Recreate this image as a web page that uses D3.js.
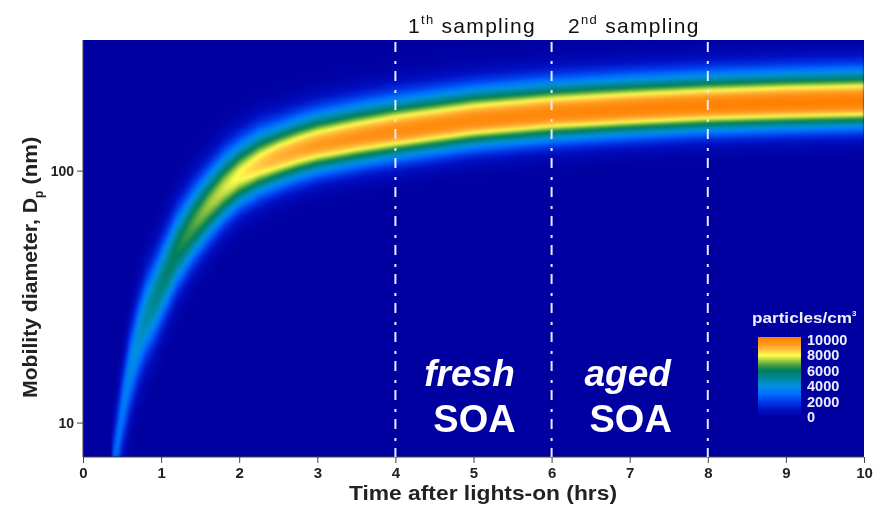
<!DOCTYPE html>
<html>
<head>
<meta charset="utf-8">
<script src="https://cdn.jsdelivr.net/npm/d3@7"></script>
<style>
  body { margin: 0; background: #fff; }
  #wrap { position: relative; width: 877px; height: 506px; }
  #heat, #chart { position: absolute; left: 0; top: 0; }
  text { font-family: "Liberation Sans", Arial, sans-serif; }
</style>
</head>
<body>
<div id="wrap">
  <canvas id="heat" width="877" height="506"></canvas>
  <svg id="chart" width="877" height="506"></svg>
</div>
<script>
// growth of the mode
var hours        = [0.42, 0.5, 0.6, 0.7, 0.8, 0.9, 1.0, 1.2, 1.4, 1.6, 1.8, 2.0, 2.25, 2.5, 2.75, 3.0, 3.5, 4.0, 5.0, 6.0, 7.0, 8.0, 9.0, 10.0];
var modeDiameter = [7.5, 11, 16, 21, 26, 30, 35, 48, 60, 72, 84, 95, 105, 113, 120, 126, 135, 143, 158, 168, 175, 181, 185, 188];
var peakConc     = [2800, 3100, 3600, 4100, 4600, 5000, 5300, 5900, 6500, 7000, 7400, 7800, 8300, 8700, 8900, 9100, 9300, 9500, 9600, 9700, 9800, 9900, 10000, 10000];
var sigmaUp      = [0.11, 0.11, 0.115, 0.115, 0.115, 0.115, 0.115, 0.11, 0.105, 0.10, 0.10, 0.095, 0.095, 0.09, 0.09, 0.09, 0.09, 0.09, 0.088, 0.087, 0.086, 0.085, 0.085, 0.085];
var sigmaDown    = [0.11, 0.11, 0.115, 0.115, 0.115, 0.115, 0.11, 0.105, 0.10, 0.095, 0.09, 0.085, 0.082, 0.08, 0.078, 0.076, 0.075, 0.074, 0.073, 0.072, 0.071, 0.07, 0.07, 0.07];

var xTicks = d3.range(0, 11);
var xMinor = d3.range(0.5, 10, 1);
var yMajor = [10, 100];
var yMinor = [8, 9, 20, 30, 40, 50, 60, 70, 80, 90, 200, 300];
var legendTicks = [0, 2000, 4000, 6000, 8000, 10000];
var samplingHours = [4, 6, 8];

// colour bar of the figure
var colorValues = [0, 900, 2000, 2900, 3900, 4900, 5800, 6400, 7100, 7700, 8400, 9200, 10000];
var colorList = ["#0000a0", "#0010c4", "#0040ec", "#0070ff", "#0090e0", "#00889a", "#007e5c", "#3a9a44", "#a8d040", "#ffff50", "#ffc040", "#ff9418", "#ff8000"];

var svg = d3.select("#chart"),
    plotLeft = 83, plotRight = 864, plotTop = 40, plotBottom = 457;

var x = d3.scaleLinear().domain([0, 10]).range([plotLeft, plotRight]);
var y = d3.scaleLog().domain([7.3, 330]).range([plotBottom, plotTop]);
var color = d3.scaleLinear().domain(colorValues).range(colorList).clamp(true);

var modeScale = d3.scaleLinear().domain(hours).range(modeDiameter.map(Math.log10));
var peakScale = d3.scaleLinear().domain(hours).range(peakConc).clamp(true);
var upScale = d3.scaleLinear().domain(hours).range(sigmaUp).clamp(true);
var downScale = d3.scaleLinear().domain(hours).range(sigmaDown).clamp(true);

// heat map, one cell per pixel
var w = plotRight - plotLeft, h = plotBottom - plotTop;
var off = document.createElement("canvas");
off.width = w; off.height = h;
var octx = off.getContext("2d");
var img = octx.createImageData(w, h);
for (var i = 0; i < w; i++) {
  var t = x.invert(plotLeft + i + 0.5);
  var c = modeScale(t), p = t < hours[0] - 0.05 ? 0 : peakScale(t), su = upScale(t), sd = downScale(t);
  for (var j = 0; j < h; j++) {
    var dd = Math.log10(y.invert(plotTop + j + 0.5)) - c;
    var s = dd > 0 ? su : sd;
    var n = p * Math.exp(-dd * dd / (2 * s * s));
    var col = d3.rgb(color(n));
    var k = (j * w + i) * 4;
    img.data[k] = col.r; img.data[k + 1] = col.g; img.data[k + 2] = col.b; img.data[k + 3] = 255;
  }
}
octx.putImageData(img, 0, 0);
var ctx = document.getElementById("heat").getContext("2d");
ctx.fillStyle = colorList[0];
ctx.fillRect(plotLeft, plotTop, w, h);
ctx.save();
ctx.beginPath(); ctx.rect(plotLeft, plotTop, w, h); ctx.clip();
ctx.filter = "blur(1px)";
ctx.drawImage(off, plotLeft, plotTop);
ctx.restore();

// axes
var axisColor = "#444";
var gy = svg.append("g").attr("transform", "translate(" + plotLeft + ",0)");
gy.call(d3.axisLeft(y).tickValues(yMinor).tickSize(3).tickFormat(""));
gy.call(d3.axisLeft(y).tickValues(yMajor).tickSize(6).tickFormat(d3.format("d")));
gy.selectAll("path, line").attr("stroke", axisColor);
gy.select(".domain").attr("d", "M0," + plotTop + "V" + plotBottom);
gy.selectAll("text").attr("font-size", 14).attr("font-weight", "bold").attr("fill", "#222").attr("x", -9);

var gx = svg.append("g").attr("transform", "translate(0," + plotBottom + ")");
gx.call(d3.axisBottom(x).tickValues(xMinor).tickSize(3).tickFormat(""));
gx.call(d3.axisBottom(x).tickValues(xTicks).tickSize(6).tickFormat(d3.format("d")));
gx.selectAll("path, line").attr("stroke", axisColor);
gx.select(".domain").attr("d", "M" + plotLeft + ",0H" + plotRight);
gx.selectAll("text").attr("font-size", 15).attr("font-weight", "bold").attr("fill", "#222").attr("y", 10);

svg.append("text")
    .attr("x", 349).attr("y", 500)
    .attr("font-size", 21).attr("font-weight", "bold").attr("fill", "#222")
    .attr("textLength", 268).attr("lengthAdjust", "spacingAndGlyphs")
    .text("Time after lights-on (hrs)");

var ylab = svg.append("text")
    .attr("transform", "translate(37,398) rotate(-90)")
    .attr("font-size", 21).attr("font-weight", "bold").attr("fill", "#222");
ylab.append("tspan").attr("textLength", 200).attr("lengthAdjust", "spacingAndGlyphs").text("Mobility diameter, D");
ylab.append("tspan").attr("font-size", 12).attr("dy", 6).text("p");
ylab.append("tspan").attr("dy", -6).attr("textLength", 54).attr("lengthAdjust", "spacingAndGlyphs").text(" (nm)");

// sampling markers
svg.append("g").selectAll("line")
  .data(samplingHours)
  .enter().append("line")
    .attr("x1", function(d) { return x(d); })
    .attr("x2", function(d) { return x(d); })
    .attr("y1", plotTop + 2).attr("y2", plotBottom)
    .attr("stroke", "#e8e8ff").attr("stroke-width", 2)
    .attr("stroke-dasharray", "10,9,3,7");

var s1 = svg.append("text").attr("x", 408).attr("y", 33).attr("font-size", 21).attr("letter-spacing", 1.3).attr("fill", "#111");
s1.append("tspan").text("1");
s1.append("tspan").attr("font-size", 13).attr("dy", -9).text("th");
s1.append("tspan").attr("dy", 9).text(" sampling");
var s2 = svg.append("text").attr("x", 568).attr("y", 33).attr("font-size", 21).attr("letter-spacing", 1.3).attr("fill", "#111");
s2.append("tspan").text("2");
s2.append("tspan").attr("font-size", 13).attr("dy", -9).text("nd");
s2.append("tspan").attr("dy", 9).text(" sampling");

// stage labels
var stages = [
  {mid: 5, word: "fresh", dx: -4},
  {mid: 7, word: "aged", dx: -2}
];
var sg = svg.append("g").selectAll("g").data(stages).enter().append("g");
sg.append("text")
    .attr("x", function(d) { return x(d.mid) + d.dx; }).attr("y", 386)
    .attr("text-anchor", "middle").attr("font-size", 37).attr("font-weight", "bold")
    .attr("font-style", "italic").attr("fill", "#fff")
    .text(function(d) { return d.word; });
sg.append("text")
    .attr("x", function(d) { return x(d.mid) + 1; }).attr("y", 432)
    .attr("text-anchor", "middle").attr("font-size", 38).attr("font-weight", "bold")
    .attr("fill", "#fff")
    .text("SOA");

// colour legend
var ly = d3.scaleLinear().domain([0, 10000]).range([417, 340]);
var grad = svg.append("defs").append("linearGradient")
    .attr("id", "bar").attr("x1", 0).attr("y1", 1).attr("x2", 0).attr("y2", 0);
grad.selectAll("stop")
  .data(colorValues)
  .enter().append("stop")
    .attr("offset", function(d) { return d / 10000; })
    .attr("stop-color", function(d) { return color(d); });
svg.append("rect")
    .attr("x", 758).attr("width", 43)
    .attr("y", ly(10000) - 3).attr("height", ly(0) - ly(10000) + 3)
    .attr("fill", "url(#bar)");

var lt = svg.append("text").attr("x", 752).attr("y", 323)
    .attr("font-size", 15).attr("font-weight", "bold").attr("fill", "#eef");
lt.append("tspan").attr("textLength", 100).attr("lengthAdjust", "spacingAndGlyphs").text("particles/cm");
lt.append("tspan").attr("font-size", 8).attr("dy", -7).text("3");

svg.append("g").selectAll("text")
  .data(legendTicks)
  .enter().append("text")
    .attr("x", 807)
    .attr("y", function(d) { return ly(d) + 5; })
    .attr("font-size", 14.5).attr("font-weight", "bold").attr("fill", "#eef")
    .text(function(d) { return d; });
</script>
</body>
</html>
